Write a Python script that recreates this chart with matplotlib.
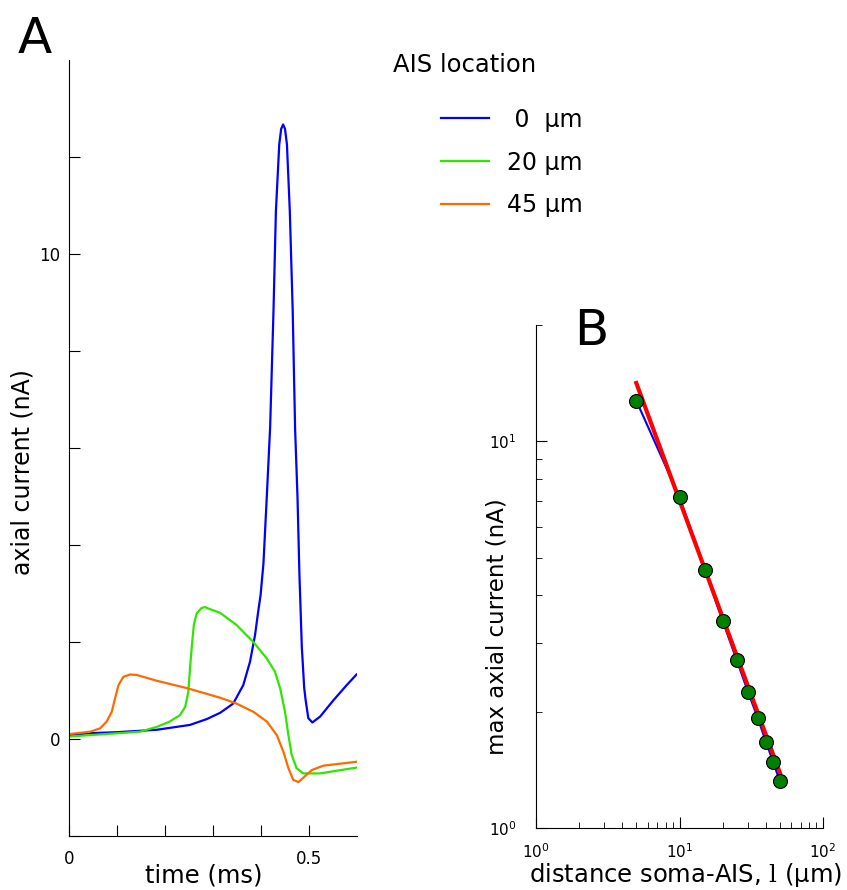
import numpy as np
import matplotlib
matplotlib.use("Agg")
import matplotlib.pyplot as plt
from matplotlib.ticker import NullFormatter

plt.rcParams['mathtext.fontset'] = 'dejavuserif'

# panel A: axial current traces (time in ms, current in nA)
t_0um = [0.0, 0.044, 0.10, 0.183, 0.252, 0.287, 0.315, 0.342, 0.363, 0.377,
         0.3875, 0.394, 0.399, 0.405, 0.412, 0.419, 0.426, 0.431, 0.438, 0.442,
         0.446, 0.450, 0.454, 0.460, 0.466, 0.471, 0.476, 0.480, 0.485, 0.490,
         0.493, 0.4985, 0.507, 0.523, 0.551, 0.5785, 0.599]
i_0um = [0.08, 0.12, 0.14, 0.19, 0.29, 0.41, 0.54, 0.73, 1.11, 1.59,
         2.14, 2.62, 2.96, 3.61, 4.99, 6.43, 8.83, 10.88, 12.26, 12.58,
         12.67, 12.58, 12.26, 10.88, 8.83, 6.40, 4.99, 3.40, 1.90, 1.05,
         0.80, 0.43, 0.34, 0.46, 0.80, 1.11, 1.33]

t_20um = [0.0, 0.044, 0.148, 0.183, 0.210, 0.231, 0.242, 0.2485, 0.252, 0.256,
          0.260, 0.266, 0.276, 0.283, 0.290, 0.315, 0.349, 0.384, 0.412, 0.429,
          0.440, 0.450, 0.457, 0.464, 0.474, 0.488, 0.523, 0.599]
i_20um = [0.05, 0.08, 0.15, 0.25, 0.36, 0.49, 0.66, 0.97, 1.45, 1.93,
          2.35, 2.59, 2.70, 2.72, 2.69, 2.60, 2.35, 2.00, 1.66, 1.39,
          1.04, 0.56, 0.08, -0.33, -0.60, -0.71, -0.71, -0.59]

t_45um = [0.0, 0.044, 0.065, 0.0785, 0.089, 0.096, 0.103, 0.113, 0.127, 0.141,
          0.183, 0.245, 0.315, 0.349, 0.384, 0.412, 0.433, 0.4465, 0.457, 0.467,
          0.478, 0.488, 0.506, 0.530, 0.599]
i_45um = [0.10, 0.15, 0.22, 0.36, 0.56, 0.84, 1.11, 1.28, 1.33, 1.32,
          1.20, 1.05, 0.85, 0.73, 0.56, 0.36, 0.08, -0.26, -0.60, -0.84,
          -0.89, -0.80, -0.64, -0.55, -0.47]

# panel B: peak axial current vs soma-AIS distance
distance = [5, 10, 15, 20, 25, 30, 35, 40, 45, 50]
max_current = [12.74, 7.17, 4.66, 3.43, 2.72, 2.25, 1.93, 1.67, 1.48, 1.32]
fit_x = [5, 50]
fit_y = [14.15, 1.39]

fig = plt.figure(figsize=(8.47, 8.9), dpi=100)

axA = fig.add_axes([0.0815, 0.0607, 0.34, 0.8719])
axA.plot(t_0um, i_0um, color='#0000ff', lw=1.6, solid_joinstyle='round', label=' 0  µm')
axA.plot(t_20um, i_20um, color='#2ee600', lw=1.6, solid_joinstyle='round', label='20 µm')
axA.plot(t_45um, i_45um, color='#ff6a00', lw=1.6, solid_joinstyle='round', label='45 µm')
axA.set_xlim(0, 0.6)
axA.set_ylim(-2, 14)
axA.set_xticks([0, 0.1, 0.2, 0.3, 0.4, 0.5])
axA.set_xticklabels(['0', '', '', '', '', '0.5'])
axA.set_yticks([-2, 0, 2, 4, 6, 8, 10, 12])
axA.set_yticklabels(['', '0', '', '', '', '', '10', ''])
axA.spines['top'].set_visible(False)
axA.spines['right'].set_visible(False)
axA.tick_params(direction='in', length=8, labelsize=12)
axA.tick_params(axis='x', pad=10)
axA.tick_params(axis='y', pad=6)
axA.set_xlabel('time (ms)', fontsize=17.5)
axA.set_ylabel('axial current (nA)', fontsize=17)
axA.xaxis.set_label_coords(0.469, -0.036)
axA.yaxis.set_label_coords(-0.12, 0.469)

fig.text(0.464, 0.919, 'AIS location', fontsize=17.5)
fig.legend(loc='upper left', bbox_to_anchor=(0.521, 0.879), frameon=False,
           fontsize=17, handlelength=2.0, handletextpad=0.8, labelspacing=0.8,
           borderpad=0, borderaxespad=0)

axB = fig.add_axes([0.6328, 0.0697, 0.3389, 0.5652])
axB.loglog(distance, max_current, color='#0000ff', lw=1.5)
axB.loglog(fit_x, fit_y, color='#ff0000', lw=3)
axB.loglog(distance, max_current, 'o', color='green', markeredgecolor='black',
           markersize=10, markeredgewidth=0.8)
axB.set_xlim(1, 100)
axB.set_ylim(1, 20)
axB.spines['top'].set_visible(False)
axB.spines['right'].set_visible(False)
axB.tick_params(which='major', direction='in', length=8, labelsize=11)
axB.tick_params(which='minor', direction='in', length=4)
axB.tick_params(axis='y', which='both', pad=14)
axB.tick_params(axis='x', which='both', pad=10)
axB.yaxis.set_minor_formatter(NullFormatter())
axB.xaxis.set_minor_formatter(NullFormatter())
axB.set_xlabel(r'distance soma-AIS, $\mathrm{l}$ (µm)', fontsize=17.5)
axB.set_ylabel('max axial current (nA)', fontsize=16.5)
axB.xaxis.set_label_coords(0.52, -0.066)
axB.yaxis.set_label_coords(-0.094, 0.40)

fig.text(0.021, 0.940, 'A', fontsize=36)
fig.text(0.678, 0.612, 'B', fontsize=36)

fig.savefig('out.png', dpi=100)
